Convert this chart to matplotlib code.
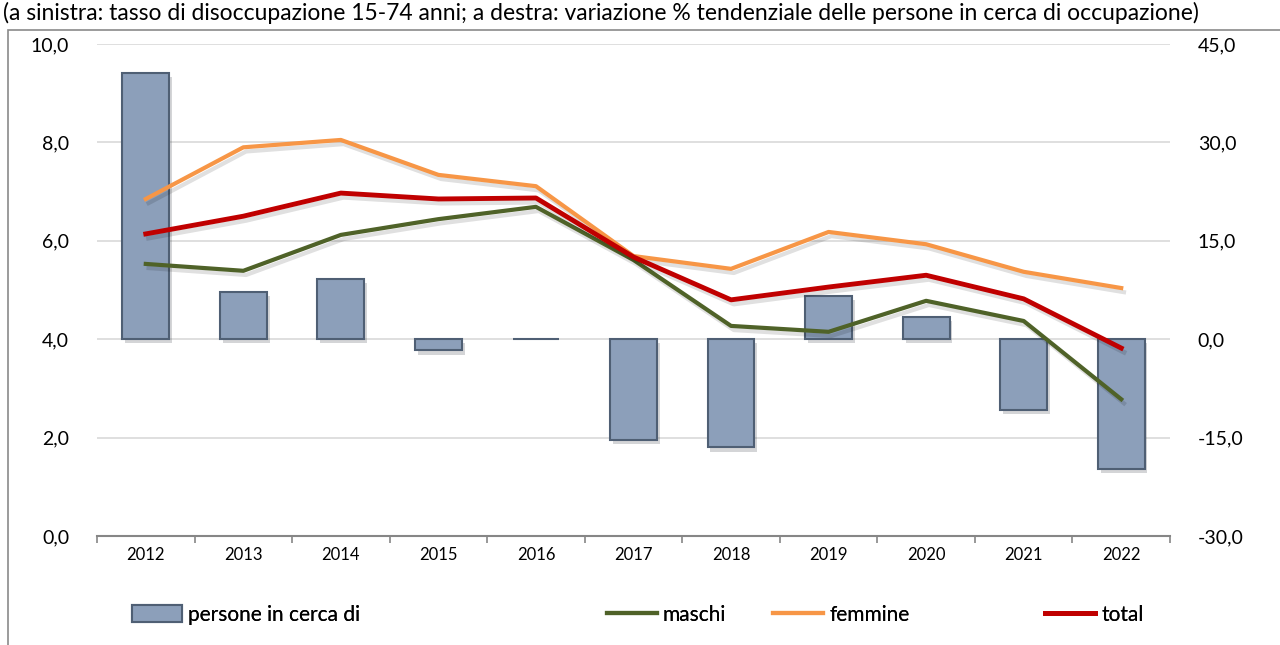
import numpy as np
import matplotlib.pyplot as plt
import matplotlib.patheffects as pe
from matplotlib.lines import Line2D
from matplotlib.patches import Patch, Rectangle

plt.rcParams['font.family'] = ['Lato', 'DejaVu Sans']

# dati
anni = ['2012', '2013', '2014', '2015', '2016', '2017', '2018', '2019', '2020', '2021', '2022']
persone_var = [40.6, 7.2, 9.2, -1.7, 0.1, -15.4, -16.5, 6.6, 3.4, -10.8, -19.8]
maschi = [5.53, 5.39, 6.12, 6.44, 6.69, 5.61, 4.27, 4.15, 4.78, 4.37, 2.78]
femmine = [6.85, 7.90, 8.05, 7.34, 7.11, 5.69, 5.43, 6.18, 5.93, 5.37, 5.04]
totale = [6.14, 6.50, 6.97, 6.85, 6.87, 5.67, 4.80, 5.06, 5.30, 4.82, 3.82]

c_bar = '#8C9FBA'
c_edge = '#4F5F74'
c_maschi = '#4F6228'
c_femmine = '#F79646'
c_totale = '#C00000'

fig = plt.figure(figsize=(12.8, 6.45), dpi=100)

# cornice del grafico
fig.add_artist(Rectangle((8 / 1280, -0.01), 1.1, 1 - 30 / 645 + 0.01, transform=fig.transFigure,
                         fill=False, edgecolor='#8a8a8a', lw=1.2))
fig.text(0.002, 1 - 13 / 645, '(a sinistra: tasso di disoccupazione 15-74 anni; a destra: variazione % tendenziale '
         'delle persone in cerca di occupazione)', ha='left', va='center', fontsize=16.5)

ax = fig.add_axes([97 / 1280, 1 - 536 / 645, (1170 - 97) / 1280, (536 - 44) / 645])
ax2 = ax.twinx()

x = np.arange(len(anni))
shadow = [pe.SimplePatchShadow(offset=(2, -3), alpha=0.2), pe.Normal()]
ax2.bar(x, persone_var, width=0.48, color=c_bar, edgecolor=c_edge, linewidth=1.5,
        path_effects=shadow, zorder=2)

line_shadow = [pe.SimpleLineShadow(offset=(2, -3), alpha=0.12), pe.Normal()]
ax2.set_zorder(ax.get_zorder() - 1)
ax.patch.set_visible(False)
ax.plot(x, maschi, color=c_maschi, lw=3, path_effects=line_shadow, zorder=3)
ax.plot(x, femmine, color=c_femmine, lw=3, path_effects=line_shadow, zorder=3)
ax.plot(x, totale, color=c_totale, lw=3.5, path_effects=line_shadow, zorder=4)

ax.set_xlim(-0.5, len(anni) - 0.5)
ax.set_ylim(0, 10)
ax2.set_ylim(-30, 45)
ax.set_yticks(np.arange(0, 10.1, 2))
ax.set_yticklabels([f'{v:.1f}'.replace('.', ',') for v in np.arange(0, 10.1, 2)], fontsize=14)
ax2.set_yticks(np.arange(-30, 45.1, 15))
ax2.set_yticklabels([f'{v:.1f}'.replace('.', ',') for v in np.arange(-30, 45.1, 15)], fontsize=14)
ax2.grid(axis='y', color='#d9d9d9', lw=1.2, zorder=0)
ax2.set_axisbelow(True)

ax.set_xticks(x)
ax.set_xticklabels(anni, fontsize=12)
ax.set_xticks(np.arange(-0.5, len(anni), 1), minor=True)
ax.tick_params(axis='x', which='major', length=0, pad=8)
ax.tick_params(axis='x', which='minor', length=5, color='#868686', width=1.2)
ax.tick_params(axis='y', length=0, pad=20)
ax2.tick_params(axis='y', length=0, pad=20)
for a in (ax, ax2):
    for s in ['top', 'left', 'right']:
        a.spines[s].set_visible(False)
ax2.spines['bottom'].set_visible(False)
ax.spines['bottom'].set_color('#868686')
ax.spines['bottom'].set_linewidth(1.5)

# legenda
items = [
    (Patch(facecolor=c_bar, edgecolor=c_edge, lw=1.5), 'persone in cerca di', 113),
    (Line2D([], [], color=c_maschi, lw=3), 'maschi', 588),
    (Line2D([], [], color=c_femmine, lw=3), 'femmine', 754),
    (Line2D([], [], color=c_totale, lw=3.5), 'total', 1026),
]
for h, lab, px in items:
    leg = fig.legend([h], [lab], loc='center left', bbox_to_anchor=(px / 1280, 1 - 615 / 645),
                     frameon=False, fontsize=15, handlelength=2.4, handleheight=0.9,
                     handletextpad=0.3)
    fig.add_artist(leg)

fig.savefig('out.png', dpi=100)
